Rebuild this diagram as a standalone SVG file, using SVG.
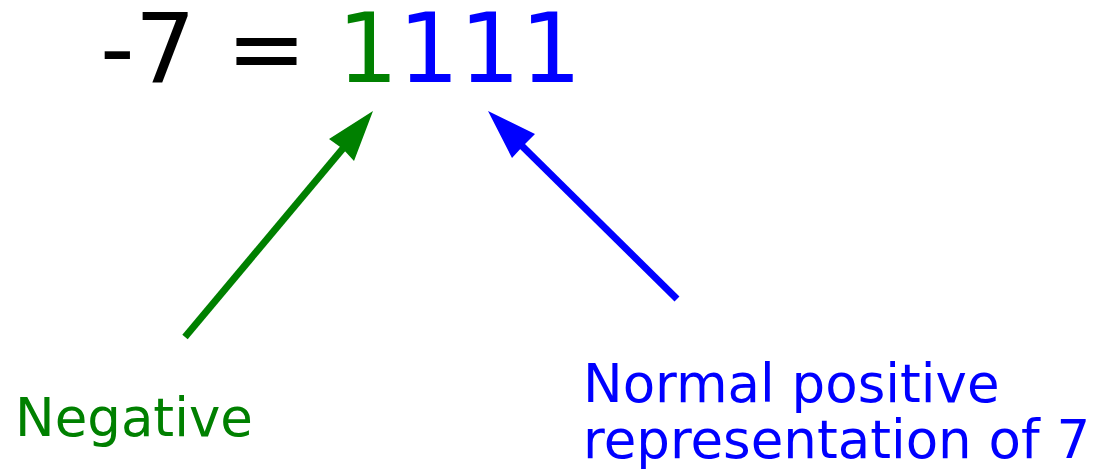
<svg xmlns="http://www.w3.org/2000/svg" width="1093" height="473" viewBox="0 0 1093 473">
<style>
text{font-family:"DejaVu Sans",sans-serif}
.g{fill:#008000}
.b{fill:#0000ff}
.gs{stroke:#008000;stroke-width:7;fill:none}
.bs{stroke:#0000ff;stroke-width:7;fill:none}
</style>
<rect width="1093" height="473" fill="#fff"/>
<g id="equation">
<text x="100" y="82" font-size="96" fill="#000">-7 = <tspan class="g">1</tspan><tspan class="b">111</tspan></text>
</g>
<g id="connectors">
<line class="gs" x1="185" y1="337" x2="345" y2="146"/>
<polygon class="g" points="373,111 354,161 343,149 329,139"/>
<line class="bs" x1="677" y1="299" x2="520" y2="144"/>
<polygon class="b" points="488,111 535,134 523,146 512,158"/>
</g>
<g id="negative">
<text x="15" y="436" font-size="53" class="g">Negative</text>
</g>
<g id="positive">
<text x="583" y="402" font-size="53" class="b">Normal positive</text>
<text x="583" y="458" font-size="53" class="b">representation of 7</text>
</g>
</svg>
